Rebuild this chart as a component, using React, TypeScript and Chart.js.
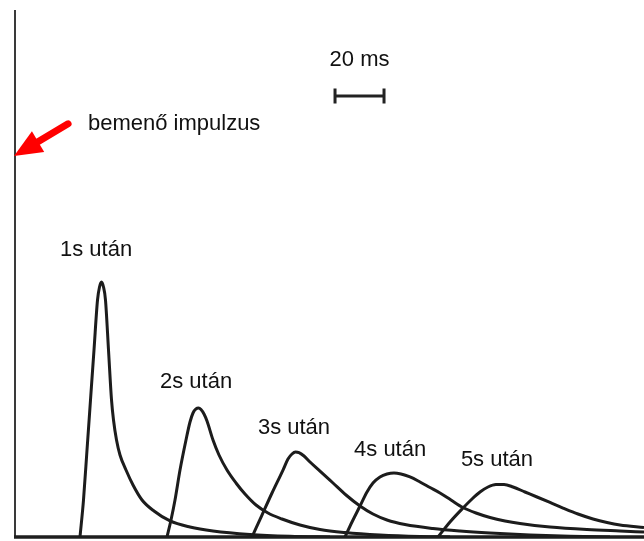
import React, { useEffect, useRef } from "react";
import { Chart, registerables } from "chart.js";

Chart.register(...registerables);

// Pulse echoes: time (ms) and amplitude (% of the input impulse)
const seriesLabels = ["1s után", "2s után", "3s után", "4s után", "5s után"];

const pulse1Time = [25.88, 27.25, 28.63, 30.0, 31.37, 32.75, 33.53, 34.31, 35.1, 35.88, 37.06, 38.24, 39.02, 40.2, 41.57, 43.92, 46.67, 50.2, 54.9, 61.18, 69.0, 78.04, 92.55, 108.2, 123.9];
const pulse1Amp = [0, 7.02, 16.51, 26.0, 35.48, 44.97, 47.44, 48.39, 47.44, 44.97, 35.48, 26.0, 22.2, 18.41, 15.56, 12.71, 9.87, 7.02, 4.93, 3.04, 1.9, 1.14, 0.47, 0.13, 0];

const pulse2Time = [60.0, 61.57, 63.14, 65.1, 67.45, 69.02, 70.2, 71.37, 72.35, 73.33, 74.51, 75.69, 78.04, 80.39, 83.53, 87.06, 90.59, 94.9, 99.61, 105.1, 112.16, 120.0, 129.8, 143.5, 159.2, 171.0];
const pulse2Amp = [0, 3.23, 7.02, 12.71, 18.41, 21.82, 23.53, 24.29, 24.48, 24.19, 23.34, 22.01, 18.41, 15.56, 12.71, 10.25, 8.16, 6.07, 4.55, 3.42, 2.28, 1.42, 0.85, 0.38, 0.09, 0];

const pulse3Time = [93.33, 97.25, 101.18, 105.49, 107.45, 109.02, 110.39, 111.76, 113.73, 116.08, 120.0, 125.1, 130.2, 135.69, 140.78, 146.27, 153.33, 164.31, 174.9, 186.67, 202.35, 218.04, 233.73];
const pulse3Amp = [0, 4.17, 8.35, 12.71, 14.8, 15.75, 16.13, 16.03, 15.37, 14.23, 12.52, 10.25, 7.97, 5.88, 4.36, 3.23, 2.37, 1.61, 1.14, 0.76, 0.38, 0.13, 0];

const pulse4Time = [129.8, 132.55, 135.69, 138.43, 140.78, 143.53, 146.27, 149.02, 151.76, 155.29, 159.22, 163.14, 167.06, 171.37, 176.08, 181.18, 186.67, 192.55, 198.43, 210.2, 224.71, 237.65, 247.06];
const pulse4Amp = [0, 2.85, 5.88, 8.54, 10.25, 11.39, 11.95, 12.14, 11.95, 11.39, 10.44, 9.39, 8.35, 7.02, 5.6, 4.55, 3.7, 3.04, 2.56, 1.9, 1.42, 1.14, 0.95];

const pulse5Time = [166.27, 170.98, 176.08, 179.61, 182.75, 185.88, 189.02, 192.16, 195.69, 200.39, 205.1, 210.2, 215.29, 221.18, 227.06, 232.55, 237.65, 247.06];
const pulse5Amp = [0, 2.85, 5.5, 7.21, 8.54, 9.49, 9.96, 9.96, 9.49, 8.54, 7.59, 6.55, 5.5, 4.36, 3.42, 2.75, 2.28, 1.8];

// Label anchors in data units (ms, amplitude)
const labelTime = [32.2, 71.4, 109.8, 147.5, 189.4];
const labelAmp = [54.5, 29.4, 20.7, 16.5, 14.6];

const inputLabel = "bemenő impulzus";
const inputLabelTime = 29.0;
const inputLabelAmp = 78.4;
const arrowFrom = [21.2, 78.4];
const arrowTo = [0, 72.3];

const scaleBarLabel = "20 ms";
const scaleBarStart = 125.5;
const scaleBarLength = 20;
const scaleBarAmp = 83.7;
const scaleBarLabelAmp = 90.5;

const xMax = 247.06;
const yMax = 100;

const pulses = [
  [pulse1Time, pulse1Amp],
  [pulse2Time, pulse2Amp],
  [pulse3Time, pulse3Amp],
  [pulse4Time, pulse4Amp],
  [pulse5Time, pulse5Amp],
];

const FONT = '22px "Liberation Sans", Arial, sans-serif';

const decorPlugin = {
  id: "decor",
  beforeDatasetsDraw(chart: any) {
    const { ctx, chartArea } = chart;
    ctx.save();
    // left axis (the input impulse)
    ctx.strokeStyle = "#3a3a3a";
    ctx.lineWidth = 2;
    ctx.beginPath();
    ctx.moveTo(chartArea.left + 1, chartArea.top);
    ctx.lineTo(chartArea.left + 1, chartArea.bottom);
    ctx.stroke();
    // bottom axis
    ctx.strokeStyle = "#1e1e1e";
    ctx.lineWidth = 3.5;
    ctx.beginPath();
    ctx.moveTo(chartArea.left, chartArea.bottom);
    ctx.lineTo(chartArea.right, chartArea.bottom);
    ctx.stroke();
    ctx.restore();
  },
  afterDatasetsDraw(chart: any) {
    const { ctx, scales } = chart;
    const xs = scales.x;
    const ys = scales.y;
    const px = (v: number) => xs.getPixelForValue(v);
    const py = (v: number) => ys.getPixelForValue(v);
    ctx.save();
    ctx.fillStyle = "#111";
    ctx.font = FONT;
    ctx.textBaseline = "middle";
    ctx.textAlign = "center";
    seriesLabels.forEach((t, i) => {
      ctx.fillText(t, px(labelTime[i]), py(labelAmp[i]));
    });
    ctx.textAlign = "left";
    ctx.fillText(inputLabel, px(inputLabelTime), py(inputLabelAmp));
    ctx.textAlign = "center";
    ctx.fillText(scaleBarLabel, px(scaleBarStart + scaleBarLength / 2), py(scaleBarLabelAmp));

    // scale bar
    const bx0 = px(scaleBarStart);
    const bx1 = px(scaleBarStart + scaleBarLength);
    const by = py(scaleBarAmp);
    ctx.strokeStyle = "#222";
    ctx.lineWidth = 3;
    ctx.beginPath();
    ctx.moveTo(bx0, by);
    ctx.lineTo(bx1, by);
    ctx.moveTo(bx0 + 1, by - 7.5);
    ctx.lineTo(bx0 + 1, by + 7.5);
    ctx.moveTo(bx1 - 1, by - 7.5);
    ctx.lineTo(bx1 - 1, by + 7.5);
    ctx.stroke();

    // red arrow
    const ax0 = px(arrowFrom[0]);
    const ay0 = py(arrowFrom[1]);
    const ax1 = px(arrowTo[0]);
    const ay1 = py(arrowTo[1]);
    const dx = ax1 - ax0;
    const dy = ay1 - ay0;
    const len = Math.hypot(dx, dy);
    const ux = dx / len;
    const uy = dy / len;
    const head = 28;
    const half = 12;
    const bx = ax1 - ux * head;
    const bYv = ay1 - uy * head;
    ctx.strokeStyle = "#ff0000";
    ctx.fillStyle = "#ff0000";
    ctx.lineWidth = 7;
    ctx.lineCap = "round";
    ctx.beginPath();
    ctx.moveTo(ax0, ay0);
    ctx.lineTo(bx + ux * 4, bYv + uy * 4);
    ctx.stroke();
    ctx.beginPath();
    ctx.moveTo(ax1, ay1);
    ctx.lineTo(bx - uy * half, bYv + ux * half);
    ctx.lineTo(bx + uy * half, bYv - ux * half);
    ctx.closePath();
    ctx.fill();
    ctx.restore();
  },
};

export default function App() {
  const canvasRef = useRef<HTMLCanvasElement | null>(null);

  useEffect(() => {
    document.body.style.margin = "0";
    const canvas = canvasRef.current;
    if (!canvas) return;
    const chart = new Chart(canvas, {
      type: "line",
      data: {
        datasets: pulses.map(([t, a], i) => ({
          label: seriesLabels[i],
          data: t.map((v, j) => ({ x: v, y: a[j] })),
          borderColor: "#1c1c1c",
          borderWidth: 3,
          pointRadius: 0,
          fill: false,
          cubicInterpolationMode: "monotone" as const,
        })),
      },
      options: {
        animation: false,
        responsive: true,
        maintainAspectRatio: false,
        layout: { padding: { left: 14, top: 10, right: 0, bottom: 4 } },
        plugins: {
          legend: { display: false },
          tooltip: { enabled: false },
          title: { display: false },
        },
        scales: {
          x: { type: "linear", min: 0, max: xMax, display: false },
          y: { type: "linear", min: 0, max: yMax, display: false },
        },
      },
      plugins: [decorPlugin],
    });
    return () => chart.destroy();
  }, []);

  return (
    <div style={{ width: 644, height: 541, position: "relative", background: "#fff" }}>
      <canvas ref={canvasRef} />
    </div>
  );
}
